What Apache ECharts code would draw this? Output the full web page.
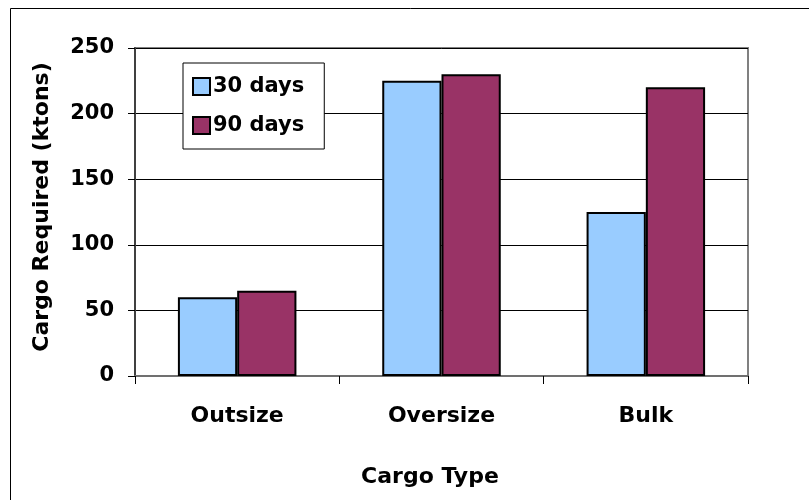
<!DOCTYPE html>
<html>
<head>
<meta charset="utf-8">
<script src="https://cdn.jsdelivr.net/npm/echarts@6/dist/echarts.min.js"></script>
<style>html,body{margin:0;padding:0;background:#fff;}#c{width:809px;height:500px;}</style>
</head>
<body>
<div id="c"></div>
<script>
const categories = ['Outsize', 'Oversize', 'Bulk'];
const series30 = [60, 225, 125];
const series90 = [65, 230, 220];
const seriesNames = ['30 days', '90 days'];
const yTicks = { min: 0, max: 250, interval: 50 };
const yTitle = 'Cargo Required (ktons)';
const xTitle = 'Cargo Type';

const FONT = '"DejaVu Sans", "Liberation Sans", Arial, sans-serif';
const chart = echarts.init(document.getElementById('c'), null, { renderer: 'canvas' });
chart.setOption({
  backgroundColor: '#fff',
  animation: false,
  grid: { left: 135, right: 61, top: 48, bottom: 124, show: true, borderColor: '#808080', borderWidth: 2, backgroundColor: 'transparent' },
  legend: {
    orient: 'vertical', left: 183, top: 63,
    padding: [13, 20, 13, 9],
    itemWidth: 17, itemHeight: 17, itemGap: 18,
    backgroundColor: '#fff', borderColor: '#000', borderWidth: 1,
    icon: 'rect',
    itemStyle: { borderColor: '#000', borderWidth: 2 },
    textStyle: { fontFamily: FONT, fontWeight: 'bold', fontSize: 21, color: '#000', padding: [0, 0, 0, -2] },
    data: seriesNames
  },
  xAxis: {
    type: 'category', data: categories,
    axisLine: { lineStyle: { color: '#707070', width: 2 } },
    axisTick: { show: true, length: 8, lineStyle: { color: '#000', width: 1 } },
    axisLabel: { margin: 29, fontFamily: FONT, fontWeight: 'bold', fontSize: 22, color: '#000' },
    splitLine: { show: false }
  },
  yAxis: {
    type: 'value', min: yTicks.min, max: yTicks.max, interval: yTicks.interval,
    axisLine: { show: true, lineStyle: { color: '#404040', width: 2 } },
    axisTick: { show: true, length: 7, lineStyle: { color: '#000', width: 1 } },
    axisLabel: { margin: 21, fontFamily: FONT, fontWeight: 'bold', fontSize: 21, color: '#000' },
    splitLine: { show: true, lineStyle: { color: '#000', width: 1 } }
  },
  series: [
    { name: seriesNames[0], type: 'bar', data: series30, barGap: '0%', barCategoryGap: '42%',
      itemStyle: { color: '#99CCFF', borderColor: '#000', borderWidth: 2 } },
    { name: seriesNames[1], type: 'bar', data: series90, barGap: '0%', barCategoryGap: '42%',
      itemStyle: { color: '#993366', borderColor: '#000', borderWidth: 2 } }
  ],
  graphic: [
    { type: 'rect', left: 8, top: 6, shape: { width: 830, height: 530 }, style: { fill: 'none', stroke: '#000', lineWidth: 1 }, silent: true },
    { type: 'text', x: 42, y: 207, rotation: Math.PI / 2, style: { text: yTitle, fontFamily: FONT, fontWeight: 'bold', fontSize: 22, fill: '#000', align: 'center', verticalAlign: 'middle' } },
    { type: 'text', x: 430, y: 477, style: { text: xTitle, fontFamily: FONT, fontWeight: 'bold', fontSize: 22, fill: '#000', align: 'center', verticalAlign: 'middle' } }
  ]
});
</script>
</body>
</html>
